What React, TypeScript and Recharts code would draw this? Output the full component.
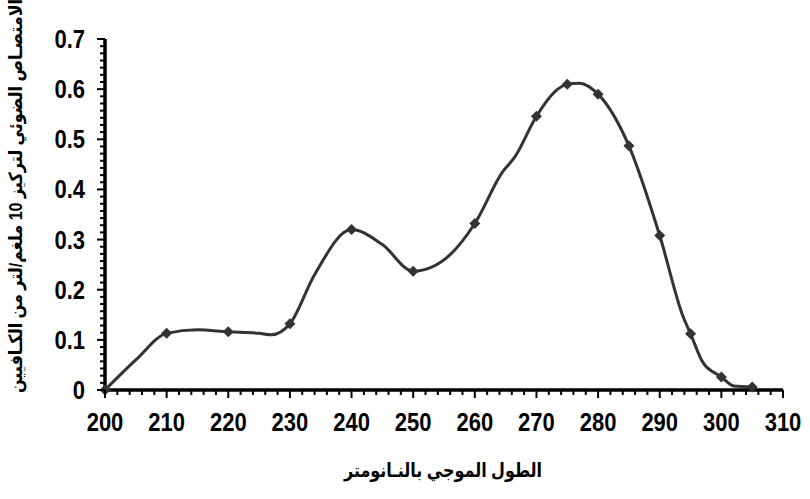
import { ComposedChart, Line, XAxis, YAxis, ReferenceLine } from 'recharts';

// wavelengths that carry a diamond marker
const markerWavelengths = [200, 210, 220, 230, 240, 250, 260, 270, 275, 280, 285, 290, 295, 300, 305];

// the smoothed curve: marker readings plus a few readings between them
const curveWavelengths = [
    200, 205, 210, 215, 220, 225, 227, 230, 234, 240, 245, 250, 253, 256, 260, 264.5, 266.5, 270, 273, 275, 277,
    280, 285, 290, 293.8, 295, 297, 300, 302, 305,
];
const curveAbsorbance = [
    0, 0.06, 0.113, 0.12, 0.116, 0.113, 0.11, 0.132, 0.23, 0.32, 0.29, 0.237, 0.245, 0.27, 0.332, 0.435, 0.465, 0.546,
    0.595, 0.61, 0.612, 0.59, 0.487, 0.308, 0.146, 0.112, 0.055, 0.026, 0.008, 0.006,
];

const xMajorTicks = [200, 210, 220, 230, 240, 250, 260, 270, 280, 290, 300, 310];
const yMajorTicks = [0, 0.1, 0.2, 0.3, 0.4, 0.5, 0.6, 0.7];
const yTickLabels = ['0', '0.1', '0.2', '0.3', '0.4', '0.5', '0.6', '0.7'];

const xTitle = 'الطول الموجي بالنـانومتر';
const yTitle = 'الامتصـاص الضوئي لتركيز 10 ملغم/لتر من الكـافيين';

// minor ticks: x every 2 nm, y seven per major step
const xAllTicks: number[] = [];
for (let v = 200; v <= 310; v += 2) xAllTicks.push(v);
const yAllTicks: number[] = [];
for (let i = 0; i <= 49; i++) yAllTicks.push(+((i * 0.1) / 7).toFixed(5));

const curveData = curveWavelengths.map((wl, i) => ({ wl, abs: curveAbsorbance[i] }));

const FONT = '"Liberation Sans", Arial, "DejaVu Sans", sans-serif';
const INK = '#333333';

// diamond only on the measured wavelengths
const Diamond = (props: any) => {
    const { cx, cy, payload } = props;
    if (cx == null || cy == null || !payload || !markerWavelengths.includes(payload.wl)) return <g />;
    const r = 5.5;
    return <path d={`M${cx},${cy - r}L${cx + r},${cy}L${cx},${cy + r}L${cx - r},${cy}Z`} fill={INK} stroke="none" />;
};

const XTick = (props: any) => {
    const x = Number(props.x);
    const y = Number(props.y);
    const major = xMajorTicks.includes(props.payload.value);
    return (
        <g>
            <rect x={x - 1} y={y} width={2} height={major ? 8 : 5} fill="#000" />
            {major && (
                <g transform={`translate(${x},${y + 41}) scale(1,1.15)`}>
                    <text x={0} y={0} textAnchor="middle" fontFamily={FONT} fontWeight="bold" fontSize={22} fill="#000">
                        {props.payload.value}
                    </text>
                </g>
            )}
        </g>
    );
};

const YTick = (props: any) => {
    const x = Number(props.x);
    const y = Number(props.y);
    const idx = yMajorTicks.findIndex((t) => Math.abs(t - props.payload.value) < 1e-6);
    const major = idx >= 0;
    const len = major ? 8 : 5;
    return (
        <g>
            <rect x={x - len} y={y - 1} width={len} height={2} fill="#000" />
            {major && (
                <g transform={`translate(${x - 20},${y + 9}) scale(1,1.15)`}>
                    <text x={0} y={0} textAnchor="end" fontFamily={FONT} fontWeight="bold" fontSize={22} fill="#000">
                        {yTickLabels[idx]}
                    </text>
                </g>
            )}
        </g>
    );
};

const XTitle = () => (
    <g transform="translate(443,477) scale(1,1.2)">
        <text x={0} y={0} textAnchor="middle" fontFamily={FONT} fontWeight="bold" fontSize={16} fill="#000">
            {xTitle}
        </text>
    </g>
);

const YTitle = () => (
    <g transform="translate(22,196) rotate(-90) scale(1,1.15)">
        <text x={0} y={0} textAnchor="middle" fontFamily={FONT} fontWeight="bold" fontSize={16} fill="#000">
            {yTitle}
        </text>
    </g>
);

export default function App() {
    return (
        <div>
            <style>{'body{margin:0;background:#fff}'}</style>
            <ComposedChart
                width={810}
                height={499}
                data={curveData}
                margin={{ top: 39, right: 27, left: 0, bottom: 0 }}
            >
                <XAxis
                    type="number"
                    dataKey="wl"
                    domain={[200, 310]}
                    ticks={xAllTicks}
                    interval={0}
                    height={109}
                    tickSize={0}
                    tickMargin={0}
                    tick={<XTick />}
                    tickLine={false}
                    stroke="#000"
                    axisLine={{ stroke: '#000', strokeWidth: 3 }}
                    label={<XTitle />}
                />
                <YAxis
                    type="number"
                    domain={[0, 0.7]}
                    ticks={yAllTicks}
                    interval={0}
                    width={105}
                    tickSize={0}
                    tickMargin={0}
                    tick={<YTick />}
                    tickLine={false}
                    stroke="#000"
                    axisLine={{ stroke: '#000', strokeWidth: 3 }}
                    label={<YTitle />}
                />
                <ReferenceLine y={0} stroke="#000" strokeWidth={3} ifOverflow="visible" />
                <ReferenceLine x={200} stroke="#000" strokeWidth={3} ifOverflow="visible" />
                <Line
                    dataKey="abs"
                    type="monotone"
                    stroke={INK}
                    strokeWidth={3}
                    dot={<Diamond />}
                    activeDot={false}
                    isAnimationActive={false}
                />
            </ComposedChart>
        </div>
    );
}
